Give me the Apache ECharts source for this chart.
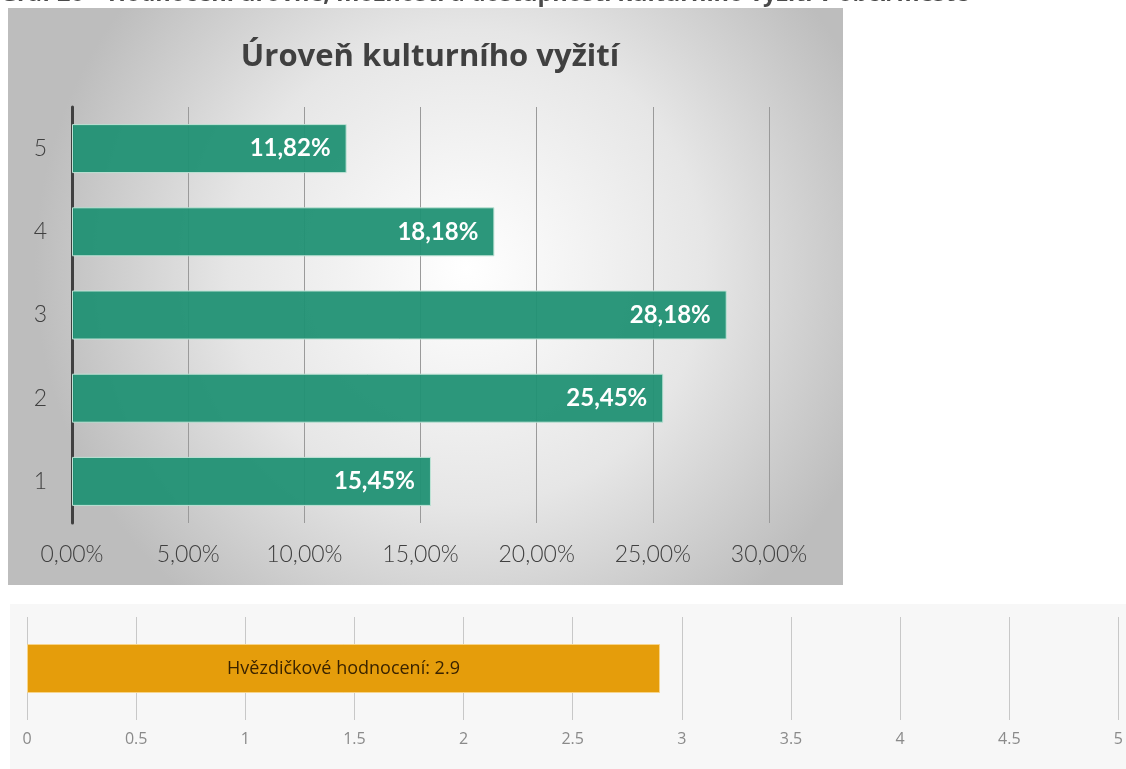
<!DOCTYPE html>
<html>
<head>
<meta charset="utf-8">
<script src="https://cdn.jsdelivr.net/npm/echarts@6/dist/echarts.min.js"></script>
<style>
  html,body{margin:0;padding:0;background:#fff;}
  #main{width:1126px;height:769px;}
</style>
</head>
<body>
<div id="main"></div>
<script>
// data
var levels = ['1', '2', '3', '4', '5'];
var shares = [15.45, 25.45, 28.18, 18.18, 11.82];
var pctTicks = [0, 5, 10, 15, 20, 25, 30];
var starLabel = 'Hvězdičkové hodnocení';
var starValue = [2.9];

var myChart = echarts.init(document.getElementById('main'));

function pct(v) {
  return v.toFixed(2).replace('.', ',') + '%';
}

var option = {
  backgroundColor: '#fff',
  animation: false,
  graphic: [
    {
      type: 'rect', z: -10,
      shape: {x: 8, y: 8, width: 835, height: 577},
      style: {
        fill: new echarts.graphic.RadialGradient(0.55, 0.45, 0.75, [
          {offset: 0, color: '#ffffff'},
          {offset: 0.55, color: '#e6e6e6'},
          {offset: 1, color: '#bdbdbd'}
        ])
      }
    },
    {
      type: 'rect', z: -10,
      shape: {x: 10, y: 604, width: 1116, height: 165},
      style: {fill: '#f7f7f7'}
    },
    {
      type: 'text', left: 0, top: -18,
      style: {
        text: 'Graf 26 – Hodnocení úrovně, možností a dostupnosti kulturního vyžití v obci/městě',
        font: 'bold 23.5px "Open Sans"',
        fill: '#4a4a4a'
      }
    }
  ],
  title: {
    text: 'Úroveň kulturního vyžití',
    left: 425,
    textAlign: 'center',
    top: 37,
    textStyle: {
      fontFamily: 'Open Sans',
      fontWeight: 'bold',
      fontSize: 31,
      color: '#404040'
    }
  },
  grid: [
    {left: 72, right: 357, top: 107, height: 416},
    {left: 27, right: 2, top: 617, height: 103}
  ],
  xAxis: [
    {
      gridIndex: 0,
      type: 'value',
      min: 0, max: 30, interval: 5,
      axisLine: {show: false},
      axisTick: {show: false},
      splitLine: {lineStyle: {color: '#9a9a9a', width: 1}},
      axisLabel: {
        margin: 20,
        fontFamily: 'Lato',
        fontWeight: 300,
        fontSize: 23,
        color: '#404040',
        formatter: function (v) { return pct(v); }
      }
    },
    {
      gridIndex: 1,
      type: 'value',
      min: 0, max: 5, interval: 0.5,
      axisLine: {show: false},
      axisTick: {show: false},
      splitLine: {lineStyle: {color: '#c8c8c8', width: 1}},
      axisLabel: {
        margin: 11,
        fontFamily: 'Open Sans',
        fontSize: 16,
        color: '#8a8a8a'
      }
    }
  ],
  yAxis: [
    {
      gridIndex: 0,
      type: 'category',
      data: levels,
      axisLine: {lineStyle: {color: '#404040', width: 3}},
      axisTick: {show: false},
      axisLabel: {
        margin: 25,
        fontFamily: 'Lato',
        fontWeight: 300,
        fontSize: 23,
        color: '#404040'
      }
    },
    {
      gridIndex: 1,
      type: 'category',
      data: [starLabel],
      axisLine: {show: false},
      axisTick: {show: false},
      axisLabel: {show: false}
    }
  ],
  series: [
    {
      type: 'bar',
      xAxisIndex: 0, yAxisIndex: 0,
      data: shares,
      barWidth: 49,
      itemStyle: {color: 'rgba(33,145,116,0.95)', borderColor: '#bfe3d6', borderWidth: 1},
      label: {
        show: true,
        position: 'insideRight',
        distance: 16,
        fontFamily: 'Lato',
        fontWeight: 'bold',
        fontSize: 24,
        color: '#fff',
        formatter: function (p) { return pct(p.value); }
      }
    },
    {
      type: 'bar',
      xAxisIndex: 1, yAxisIndex: 1,
      data: starValue,
      barWidth: 49,
      itemStyle: {color: '#e59d0b', borderColor: '#f7d48a', borderWidth: 1},
      label: {
        show: true,
        position: 'inside',
        fontFamily: 'Open Sans',
        fontSize: 18,
        color: '#3a2300',
        formatter: function (p) { return starLabel + ': ' + p.value; }
      }
    }
  ]
};
myChart.setOption(option);
</script>
</body>
</html>
